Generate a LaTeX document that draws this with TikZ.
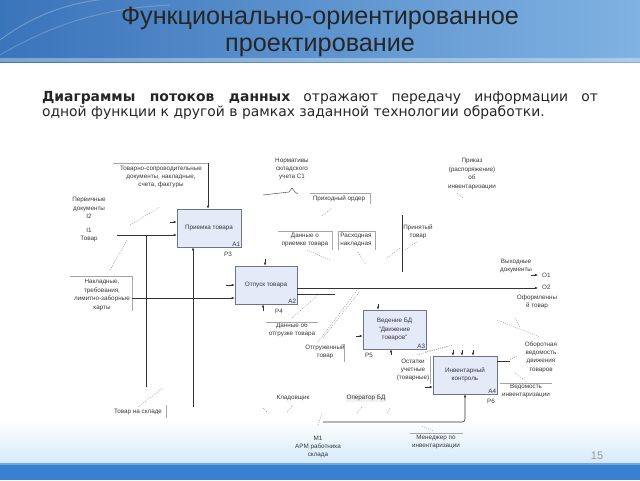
\documentclass[tikz,border=0pt]{standalone}
\usepackage{fontspec}
\setmainfont{Liberation Sans}
\newfontfamily\introfam{DejaVu Sans}
\usetikzlibrary{arrows.meta}

\definecolor{boxfill}{RGB}{229,234,248}
\definecolor{boxline}{RGB}{112,116,136}
\definecolor{hdrdark}{RGB}{58,116,186}
\definecolor{hdrlight}{RGB}{128,178,226}
\definecolor{barblue}{RGB}{56,128,208}
\definecolor{lowblue}{RGB}{214,233,249}
\definecolor{inkgray}{RGB}{55,55,60}

\newcommand{\diagfont}{\fontsize{6.3}{8.4}\selectfont}
\newcommand{\titlefont}{\fontsize{25.2}{27}\selectfont}
\newcommand{\introfont}{\introfam\fontsize{13.9}{15}\selectfont}

\begin{document}
\begin{tikzpicture}[x=1pt, y=-1pt,
	func/.style={draw=boxline, fill=boxfill, line width=0.6pt, inner sep=1pt,
		font=\diagfont, align=center, text=inkgray},
	lbl/.style={font=\diagfont, align=center, inner sep=1pt, text=inkgray},
	flow/.style={draw=black!80, line width=0.6pt, -{Latex[length=3pt, width=2.6pt]}},
	wire/.style={draw=black!80, line width=0.6pt},
	rim/.style={draw=black!35, line width=0.4pt},
	squig/.style={draw=black!45, line width=0.4pt, dash pattern=on 1pt off 1.2pt}]
	\useasboundingbox (0,0) rectangle (640,480);

	% slide background
	\fill[left color=hdrdark, right color=hdrlight] (0,0) rectangle (640,62);
	\fill[white, opacity=0.35] (0,58) rectangle (640,62);
	\draw[white, opacity=0.25, line width=1pt] (0,40) .. controls (40,10) and (80,0) .. (120,-2);
	\draw[white, opacity=0.2, line width=1pt] (0,55) .. controls (60,20) and (110,8) .. (170,5);
	\fill[top color=white, bottom color=lowblue] (0,420) rectangle (640,463);
	\fill[barblue] (0,463) rectangle (640,480);
	\fill[white, opacity=0.3] (0,463) rectangle (640,465);

	% title and text
	\node[font=\titlefont, text=black!85, align=center] (title) at (320,32)
		{Функционально-ориентированное\\проектирование};
	\node[font=\introfont, text=black!85, text width=556pt, align=justify, inner sep=0pt] (intro) at (320,105)
		{\textbf{Диаграммы потоков данных} отражают передачу информации от\linebreak одной функции к другой в рамках заданной технологии обработки.};
	\node[font=\fontsize{11}{13}\selectfont, text=black!40] (page) at (597,456) {15};

	% function blocks
	\node[func, minimum width=64pt, minimum height=38pt] (A1) at (209,228) {Приемка товара};
	\node[func, minimum width=62pt, minimum height=38pt] (A2) at (266,285) {Отпуск товара};
	\node[func, minimum width=63pt, minimum height=39pt] (A3) at (394.5,329.5) {Ведение БД\\"Движение\\товаров"};
	\node[func, minimum width=64pt, minimum height=38pt] (A4) at (465,375) {Инвентарный\\контроль};
	\node[lbl, anchor=south east] (A1n) at (A1.south east) {A1};
	\node[lbl, anchor=south east] (A2n) at (A2.south east) {A2};
	\node[lbl, anchor=south east] (A3n) at (A3.south east) {A3};
	\node[lbl, anchor=south east] (A4n) at (A4.south east) {A4};
	\node[lbl] (p3) at (228,254) {P3};
	\node[lbl] (p4) at (279,311) {P4};
	\node[lbl] (p5) at (369,355) {P5};
	\node[lbl] (p6) at (491,401) {P6};

	% labels of the arrows
	\node[lbl] (tsd) at (161,177) {Товарно-сопроводительные\\документы, накладные,\\счета, фактуры};
	\node[lbl] (i2n) at (89,208) {Первичные\\документы\\I2};
	\node[lbl] (i1n) at (89,235) {I1\\Товар};
	\node[lbl] (nakl) at (102,295) {Накладные,\\требования,\\лимитно-заборные\\карты};
	\node[lbl] (c1n) at (292,169) {Нормативы\\складского\\учета C1};
	\node[lbl] (prord) at (339,199) {Приходный ордер};
	\node[lbl] (dpr) at (305,240) {Данные о\\приемке товара};
	\node[lbl] (rasn) at (356,240) {Расходная\\накладная};
	\node[lbl] (prtov) at (418,232) {Принятый\\товар};
	\node[lbl] (prik) at (472,174) {Приказ\\(распоряжение)\\об\\инвентаризации};
	\node[lbl] (vyh) at (516,266) {Выходные\\документы};
	\node[lbl, anchor=west] (o1n) at (541,275) {O1};
	\node[lbl, anchor=west] (o2n) at (541,287) {O2};
	\node[lbl] (ofor) at (537,302) {Оформленны\\й товар};
	\node[lbl] (dotg) at (292,330) {Данные об\\отгрузке товара};
	\node[lbl] (otgr) at (325,352) {Отгруженный\\товар};
	\node[lbl] (ost) at (413,370) {Остатки\\учетные\\(товарные)};
	\node[lbl] (obor) at (541,357) {Оборотная\\ведомость\\движения\\товаров};
	\node[lbl] (vedi) at (526,391) {Ведомость\\инвентаризации};
	\node[lbl] (tns) at (138,412) {Товар на складе};
	\node[lbl] (klad) at (293,398) {Кладовщик};
	\node[lbl, fill=black!6] (opbd) at (366,398) {Оператор БД};
	\node[lbl] (m1n) at (318,447) {M1\\АРМ работника\\склада};
	\node[lbl] (menv) at (436,442) {Менеджер по\\инвентаризации};

	% label borders
	\draw[rim] (113,163) -- (208,163);
	\draw[rim] (70,276) -- (132,276) -- (132,311);
	\draw[rim] (310,193) -- (370,193) -- (370,204);
	\draw[rim] (278,231) -- (332,231) -- (332,250);
	\draw[rim] (338,250) -- (338,231) -- (375,231) -- (375,250);
	\draw[rim] (266,322) -- (318,322);
	\draw[rim] (344,344) -- (344,362);
	\draw[rim] (430,356) -- (430,384);
	\draw[rim] (500,383) -- (552,383);
	\draw[rim] (166,405) -- (166,418);
	\draw[rim] (410,433) -- (463,433);
	\draw[wire, line width=0.4pt] (402,215) -- (402,272);
	\draw[wire, line width=0.4pt] (263,195) -- (289,192) -- (292,188);
	\draw[wire, line width=0.4pt] (292,188) -- (295,192) -- (298,194);

	% coordinates of free ends
	\coordinate (c1) at (208,163);
	\coordinate (i1) at (117,235);
	\coordinate (i2) at (170,222);
	\coordinate (j1) at (146,235);
	\coordinate (j1b) at (146,387);
	\coordinate (m0) at (193,407);
	\coordinate (i3) at (132,298);
	\coordinate (i4) at (226,285);
	\coordinate (c2) at (265,259);
	\coordinate (m2) at (263,311);
	\coordinate (o1s) at (531,275);
	\coordinate (o1) at (538,275);
	\coordinate (o2) at (538,288);
	\coordinate (o3) at (335,294);
	\coordinate (c3) at (378,304);
	\coordinate (i5) at (356,336);
	\coordinate (m3) at (391,355);
	\coordinate (c4a) at (453,350);
	\coordinate (c4b) at (462,350);
	\coordinate (c4c) at (473,350);
	\coordinate (i6) at (425,387);
	\coordinate (o4) at (510,361);
	\coordinate (m4a) at (323,422);
	\coordinate (m4b) at (465,422);

	% arrows
	\draw[flow] (c1) -- (c1 |- A1.north);
	\draw[flow] (i1) -- (i1 -| A1.west);
	\draw[flow] (i2) -- (i2 -| A1.west);
	\draw[wire] (j1) -- (j1b);
	\draw[flow] (m0) -- (m0 |- A1.south);
	\draw[flow] (i3) -- (i3 -| A2.west);
	\draw[flow] (i4) -- (i4 -| A2.west);
	\draw[flow] (c2) -- (c2 |- A2.north);
	\draw[flow] (m2) -- (m2 |- A2.south);
	\draw[flow] (A2.east |- o2) -- (o2);
	\draw[wire] (A2.east |- o3) -- (o3);
	\draw[flow] (o1s) -- (o1);
	\draw[flow] (c3) -- (c3 |- A3.north);
	\draw[flow] (i5) -- (i5 -| A3.west);
	\draw[flow] (m3) -- (m3 |- A3.south);
	\draw[flow] (c4a) -- (c4a |- A4.north);
	\draw[flow] (c4b) -- (c4b |- A4.north);
	\draw[flow] (c4c) -- (c4c |- A4.north);
	\draw[flow] (i6) -- (i6 -| A4.west);
	\draw[wire] (A4.east |- o4) -- (o4);
	\draw[flow, rounded corners=3pt] (m4a) -- (m4b) -- (m4b |- A4.south);

	% squiggles
	\draw[squig] (130,225) -- (160,207);
	\draw[squig] (110,270) -- (127,240);
	\draw[squig] (322,216) -- (332,208);
	\draw[squig] (307,250) -- (330,260);
	\draw[squig] (358,252) -- (366,265);
	\draw[squig] (387,258) -- (400,248);
	\draw[squig] (405,250) -- (418,241);
	\draw[squig] (457,193) -- (463,198);
	\draw[squig] (292,318) -- (318,295);
	\draw[squig] (318,342) -- (358,289);
	\draw[squig] (323,338) -- (360,291);
	\draw[squig] (497,320) -- (540,337);
	\draw[squig] (515,318) -- (520,327);
	\draw[squig] (510,360) -- (517,356);
	\draw[squig] (515,373) -- (527,382);
	\draw[squig] (417,355) -- (453,345);
	\draw[squig] (425,352) -- (448,346);
	\draw[squig] (138,407) -- (163,388);
	\draw[squig] (263,408) -- (268,413);
	\draw[squig] (287,412) -- (293,405);
	\draw[squig] (318,425) -- (322,413);
	\draw[squig] (357,413) -- (362,407);
	\draw[squig] (387,413) -- (390,408);
	\draw[squig] (422,426) -- (433,431);
\end{tikzpicture}
\end{document}
